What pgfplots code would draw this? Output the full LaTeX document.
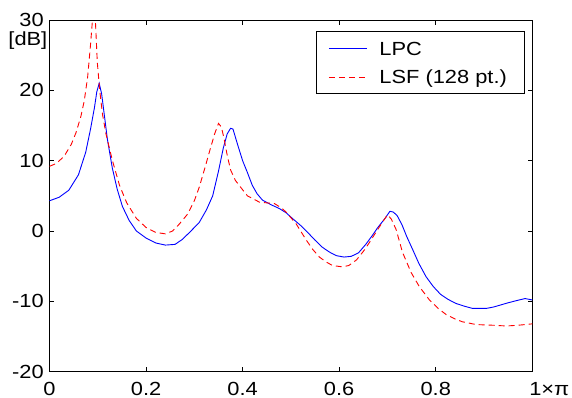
\documentclass[border=0pt]{standalone}
\usepackage{pgfplots}
\pgfplotsset{compat=1.18}
\usepackage{fontspec}
\setmainfont{Liberation Sans}[FakeStretch=1.15]
\definecolor{mblue}{RGB}{0,0,255}
\definecolor{mred}{RGB}{255,0,0}
\begin{document}
\begin{tikzpicture}
\begin{axis}[
  at={(0,0)}, anchor=south west,
  scale only axis, width=482.8bp, height=351.7bp,
  xmin=0, xmax=1, ymin=-20, ymax=30,
  clip mode=individual,
  axis line style={line width=0.9bp},
  every tick/.style={black, line width=0.8bp},
  tick align=inside, major tick length=4.5bp,
  xtick={0,0.2,0.4,0.6,0.8,1},
  xticklabels={0,0.2,0.4,0.6,0.8,{\makebox[0pt][l]{\hspace*{-3bp}1×π}}},
  ytick={-20,-10,0,10,20,30},
  yticklabels={-20,-10,0,10,20,30},
  font=\fontsize{19bp}{22bp}\selectfont,
  xticklabel style={inner sep=0pt, anchor=north, yshift=-10.2bp},
  yticklabel style={inner sep=0pt, anchor=east, xshift=-5.5bp},
  legend cell align=left,
  legend image code/.code={\draw[#1] (0bp,0bp) -- (38bp,0bp);},
  legend style={at={(axis description cs:0.553,0.968)}, anchor=north west,
    draw=black, line width=0.8bp, fill=white,
    inner xsep=11.6bp, inner ysep=5.8bp,
    nodes={inner sep=0pt, text height=17.6bp, text depth=4bp},
    row sep=7.1bp, column sep=12bp,
    font=\fontsize{19bp}{22bp}\selectfont},
]
\addplot[mblue, line width=0.9bp] coordinates {
(0,4.3) (0.02,4.8) (0.04,5.8) (0.06,8.0) (0.075,11.2) (0.085,14.5) (0.093,17.5)
(0.098,19.8) (0.103,21.0) (0.108,19.5) (0.113,16.8) (0.12,13.0) (0.13,9.0)
(0.14,6.0) (0.151,3.5) (0.165,1.5) (0.18,0.0) (0.2,-1.0) (0.22,-1.7) (0.24,-2.0)
(0.26,-1.9) (0.275,-1.2) (0.29,-0.2) (0.31,1.2) (0.325,3.0) (0.338,5.0) (0.35,8.5)
(0.36,11.8) (0.368,13.8) (0.375,14.6) (0.38,14.5) (0.39,12.2) (0.4,10.0)
(0.41,8.3) (0.42,6.5) (0.43,5.3) (0.441,4.4) (0.46,3.7) (0.476,3.2) (0.49,2.6)
(0.503,1.8) (0.52,0.8) (0.532,0.0) (0.55,-1.3) (0.565,-2.3) (0.58,-3.0)
(0.594,-3.5) (0.61,-3.7) (0.625,-3.6) (0.64,-3.1) (0.655,-1.9) (0.668,-0.7)
(0.68,0.5) (0.695,1.8) (0.705,2.8) (0.712,2.7) (0.72,2.2) (0.73,0.9) (0.74,-0.8)
(0.752,-2.6) (0.765,-4.6) (0.78,-6.5) (0.795,-7.9) (0.81,-9.0) (0.825,-9.7)
(0.842,-10.3) (0.86,-10.7) (0.876,-11.0) (0.905,-11.0) (0.92,-10.8) (0.935,-10.5)
(0.95,-10.2) (0.967,-9.9) (0.985,-9.6) (1.0,-9.8)
};
\addlegendentry{LPC}
\addplot[mred, line width=0.9bp, dash pattern=on 6bp off 4bp] coordinates {
(0,9.2) (0.014,9.6) (0.03,10.6) (0.045,12.3) (0.055,14.0) (0.065,16.3)
(0.072,18.5) (0.079,21.9) (0.085,26.5) (0.089,30) (0.092,32) (0.095,30)
(0.099,24.0) (0.104,20.0) (0.11,16.5) (0.117,13.8) (0.13,10.1) (0.145,6.5)
(0.16,4.0) (0.18,1.8) (0.2,0.5) (0.22,-0.2) (0.24,-0.4) (0.255,0.0) (0.269,1.0)
(0.286,2.4) (0.3,4.3) (0.31,6.2) (0.322,9.0) (0.331,11.2) (0.342,13.8)
(0.35,15.3) (0.356,14.8) (0.362,13.0) (0.368,10.8) (0.375,8.7) (0.385,7.2)
(0.395,6.3) (0.41,5.0) (0.435,4.1) (0.466,3.9) (0.48,3.3) (0.49,2.7) (0.511,1.0)
(0.532,-1.3) (0.545,-2.6) (0.559,-3.7) (0.573,-4.4) (0.586,-4.9) (0.607,-5.1)
(0.62,-4.9) (0.636,-4.1) (0.65,-2.9) (0.663,-1.6) (0.675,-0.3) (0.69,1.3)
(0.7,2.3) (0.708,1.7) (0.718,0.2) (0.731,-3.0) (0.749,-5.9) (0.766,-7.9)
(0.787,-9.8) (0.805,-11.0) (0.822,-11.9) (0.84,-12.5) (0.855,-12.9)
(0.884,-13.3) (0.92,-13.4) (0.946,-13.5) (0.97,-13.4) (1.0,-13.2)
};
\addlegendentry{LSF (128 pt.)\hspace*{6bp}}
\node[anchor=base east, inner sep=0pt, font=\fontsize{19bp}{22bp}\selectfont]
  at (axis description cs:0,1) [xshift=-2bp, yshift=-25bp] {[dB]};
\end{axis}
\pgfresetboundingbox
\path (-49.5bp,-26.3bp) rectangle (522.5bp,371.7bp);
\end{tikzpicture}
\end{document}
